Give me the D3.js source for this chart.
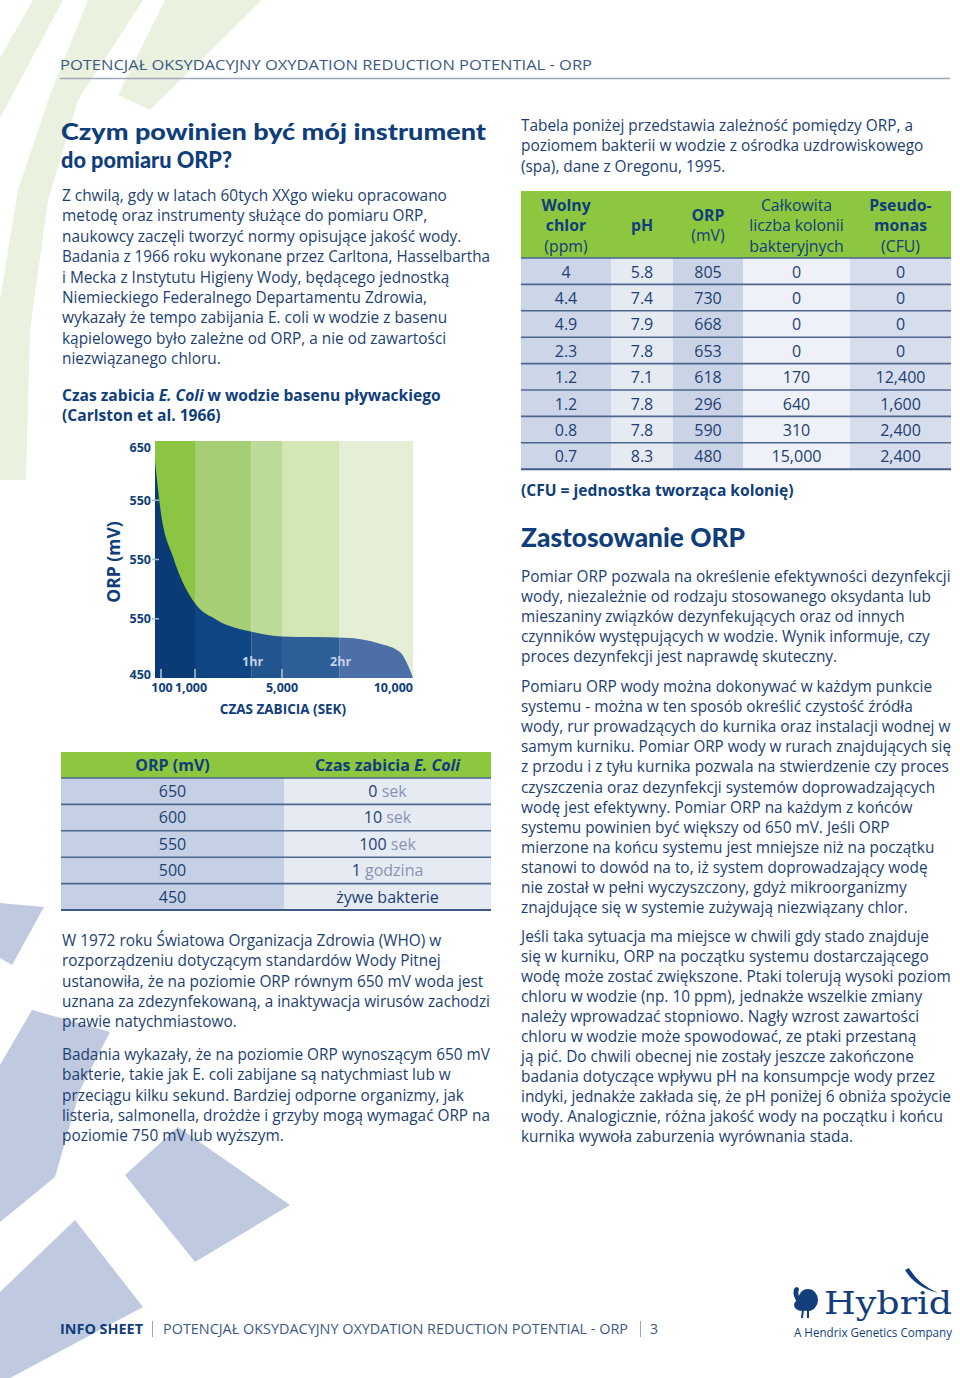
<!DOCTYPE html>
<html><head><meta charset="utf-8">
<script src="https://cdn.jsdelivr.net/npm/d3@7"></script>
<style>
html,body{margin:0;padding:0;background:#fff;}
svg{display:block;font-family:"Open Sans",sans-serif;}
</style></head>
<body><div id="page"></div>
<script>
/* ORP info sheet, page 3: kill-time chart + two tables, drawn with d3 v7 */

// ---- chart data: E. coli kill time vs ORP (Carlston et al. 1966) ----
var killSec = [0, 100, 420, 1000, 2000, 3600, 5000, 7400, 8740, 9500, 9880, 10000];
var killOrp = [633, 589, 552, 513, 499, 489, 485, 484, 479, 472, 457, 450];
var bandEdges = [0, 1000, 3600, 5000, 7200, 10000];
var bandGreens = ["#8cc443", "#a6ce74", "#bddb98", "#d3e6b6", "#e4efd6"];
var bandBlues = ["#0b3b76", "#0f4583", "#22548f", "#2f5f99", "#4b6fa6"];
var xTicks = [100, 1000, 5000, 10000];
var xTickLabels = ["100", "1,000", "5,000", "10,000"];
var yTicks = [450, 500, 550, 600, 650];
var yTickLabels = ["450", "550", "550", "550", "650"]; // as printed
var hourMarks = [3600, 7200];
var hourLabels = ["1hr", "2hr"];

// ---- left table ----
var orpLevels = [650, 600, 550, 500, 450];
var killNum = ["0", "10", "100", "1", "żywe bakterie"];
var killUnit = ["sek", "sek", "sek", "godzina", ""];

// ---- right table (Oregon spa, 1995) ----
var chlorPpm = ["4", "4.4", "4.9", "2.3", "1.2", "1.2", "0.8", "0.7"];
var phVals = ["5.8", "7.4", "7.9", "7.8", "7.1", "7.8", "7.8", "8.3"];
var orpVals = [805, 730, 668, 653, 618, 296, 590, 480];
var colonies = [0, 0, 0, 0, 170, 640, 310, 15000];
var pseudomonas = [0, 0, 0, 0, 12400, 1600, 2400, 2400];

// ---- copy ----
var introLines = [
  "Z chwilą, gdy w latach 60tych XXgo wieku opracowano",
  "metodę oraz instrumenty służące do pomiaru ORP,",
  "naukowcy zaczęli tworzyć normy opisujące jakość wody.",
  "Badania z 1966 roku wykonane przez Carltona, Hasselbartha",
  "i Mecka z Instytutu Higieny Wody,  będącego jednostką",
  "Niemieckiego Federalnego Departamentu Zdrowia,",
  "wykazały że tempo zabijania E. coli w wodzie z basenu",
  "kąpielowego było zależne od ORP, a nie od zawartości",
  "niezwiązanego chloru."];
var whoLines = [
  "W 1972 roku Światowa Organizacja Zdrowia (WHO) w",
  "rozporządzeniu dotyczącym standardów Wody Pitnej",
  "ustanowiła, że na poziomie ORP równym 650 mV woda jest",
  "uznana za zdezynfekowaną, a inaktywacja wirusów zachodzi",
  "prawie natychmiastowo."];
var studyLines = [
  "Badania wykazały, że na poziomie ORP wynoszącym 650 mV",
  "bakterie, takie jak E. coli zabijane są natychmiast lub w",
  "przeciągu kilku sekund. Bardziej odporne organizmy, jak",
  "listeria, salmonella, drożdże i grzyby mogą wymagać ORP na",
  "poziomie 750 mV lub wyższym."];
var tableIntro = [
  "Tabela poniżej przedstawia zależność pomiędzy ORP, a",
  "poziomem bakterii w wodzie z ośrodka uzdrowiskowego",
  "(spa), dane z Oregonu, 1995."];
var useLines1 = [
  "Pomiar ORP pozwala na określenie efektywności dezynfekcji",
  "wody, niezależnie od rodzaju stosowanego oksydanta lub",
  "mieszaniny związków dezynfekujących oraz od innych",
  "czynników występujących w wodzie. Wynik informuje, czy",
  "proces dezynfekcji jest naprawdę skuteczny."];
var useLines2 = [
  "Pomiaru ORP wody można dokonywać w każdym punkcie",
  "systemu  - można w ten sposób określić czystość źródła",
  "wody, rur prowadzących do kurnika oraz instalacji wodnej w",
  "samym kurniku. Pomiar ORP wody w rurach znajdujących się",
  "z przodu i z tyłu kurnika pozwala na stwierdzenie czy proces",
  "czyszczenia oraz dezynfekcji systemów doprowadzających",
  "wodę jest efektywny. Pomiar ORP na każdym z końców",
  "systemu powinien być większy od 650 mV. Jeśli ORP",
  "mierzone na końcu systemu jest mniejsze niż na początku",
  "stanowi to dowód na to, iż system doprowadzający wodę",
  "nie został w pełni wyczyszczony, gdyż mikroorganizmy",
  "znajdujące się w systemie zużywają niezwiązany chlor."];
var useLines3 = [
  "Jeśli taka sytuacja ma miejsce w chwili gdy stado znajduje",
  "się w kurniku, ORP na początku systemu dostarczającego",
  "wodę może zostać zwiększone. Ptaki tolerują wysoki poziom",
  "chloru w wodzie (np. 10 ppm), jednakże wszelkie zmiany",
  "należy wprowadzać stopniowo. Nagły wzrost zawartości",
  "chloru w wodzie może spowodować, ze ptaki przestaną",
  "ją pić. Do chwili obecnej nie zostały jeszcze zakończone",
  "badania dotyczące wpływu pH na konsumpcje wody przez",
  "indyki, jednakże zakłada się, że pH poniżej 6 obniża spożycie",
  "wody. Analogicznie, różna jakość wody na początku i końcu",
  "kurnika wywoła zaburzenia wyrównania stada."];
var runTitle = "POTENCJAŁ OKSYDACYJNY OXYDATION REDUCTION POTENTIAL - ORP";

(function () {
  "use strict";
  var W = 960, H = 1378;
  var NAVY = "#0f3e7b", TEXT = "#1d3f72", SLATE = "#3b5a84", GREEN = "#8dc63f";
  var BODY = 15.4, LH = 20.3, HEAD_FONT = "Lato, sans-serif";

  var svg = d3.select("#page").append("svg").attr("width", W).attr("height", H);
  svg.append("rect").attr("width", W).attr("height", H).attr("fill", "#fff");

  // decorative background blades
  var bg = svg.append("g");
  [[[33,0],[63,0],[0,118],[0,58]],
   [[88,0],[143,0],[78,100],[48,200],[30,330],[26,480],[0,480],[0,300],[18,190],[50,95]],
   [[165,0],[262,0],[150,110],[118,95]]
  ].forEach(function (p) { bg.append("path").attr("d", "M" + p.join("L") + "Z").attr("fill", "#eaf1de"); });
  [[[0,903],[44,907],[12,965],[0,958]],
   [[32,1010],[110,1032],[80,1090],[55,1177],[0,1222],[0,1065]],
   [[125,1175],[178,1127],[290,1205],[195,1262]],
   [[0,1292],[75,1220],[143,1307],[10,1378],[0,1378]]
  ].forEach(function (p) { bg.append("path").attr("d", "M" + p.join("L") + "Z").attr("fill", "#bfc9e0"); });

  // one <text> per paragraph, a tspan per printed line
  function para(lines, x, y0, opt) {
    opt = opt || {};
    var t = svg.append("text").attr("fill", opt.fill || TEXT).attr("font-size", opt.size || BODY)
      .attr("font-weight", opt.weight || 400);
    if (opt.family) t.attr("font-family", opt.family);
    lines.forEach(function (s, i) {
      var ts = t.append("tspan").attr("x", x).attr("y", y0 + i * (opt.lh || LH)).text(s);
      var w = ts.node().getComputedTextLength();
      if (opt.fit && opt.fit[i]) ts.attr("textLength", opt.fit[i]).attr("lengthAdjust", "spacingAndGlyphs");
      else if (opt.max && w > opt.max) ts.attr("textLength", opt.max).attr("lengthAdjust", "spacingAndGlyphs");
    });
    return t;
  }

  // running header
  svg.append("text").attr("x", 60).attr("y", 70).attr("fill", SLATE).attr("font-size", 14)
    .attr("textLength", 532).attr("lengthAdjust", "spacingAndGlyphs").text(runTitle);
  svg.append("line").attr("x1", 60).attr("x2", 950).attr("y1", 78.5).attr("y2", 78.5)
    .attr("stroke", "#9ea8b6").attr("stroke-width", 1.5);

  // ---- left column ----
  para(["Czym powinien być mój instrument", "do pomiaru ORP?"], 61, 139.5,
       { size: 23.5, weight: 900, fill: NAVY, lh: 28.3, fit: [425, 171], family: HEAD_FONT });
  para(introLines, 62, 201, { max: 428, lh: 20.4 });
  var ct = svg.append("text").attr("fill", NAVY).attr("font-size", 15.6).attr("font-weight", 700);
  var ct1 = ct.append("tspan").attr("x", 62).attr("y", 401);
  ct1.append("tspan").text("Czas zabicia ");
  ct1.append("tspan").attr("font-style", "italic").text("E. Coli");
  ct1.append("tspan").text(" w wodzie basenu pływackiego");
  ct.append("tspan").attr("x", 62).attr("y", 421).text("(Carlston et al. 1966)");

  // ---- chart ----
  var x = d3.scaleLinear().domain([0, 100, 1000, 5000, 10000]).range([155, 161, 195, 282, 413]);
  var y = d3.scaleLinear().domain([450, 650]).range([678, 441]);
  var chart = svg.append("g");
  var bands = d3.range(bandGreens.length).map(function (i) {
    return { a: bandEdges[i], b: bandEdges[i + 1], g: bandGreens[i], bl: bandBlues[i] };
  });
  chart.selectAll("rect.gb").data(bands).join("rect").attr("class", "gb")
    .attr("x", function (d) { return x(d.a); }).attr("width", function (d) { return x(d.b) - x(d.a); })
    .attr("y", y(650)).attr("height", y(450) - y(650)).attr("fill", function (d) { return d.g; });

  var pts = killSec.map(function (s, i) { return { s: s, v: killOrp[i] }; });
  var area = d3.area().x(function (d) { return x(d.s); }).y0(y(450))
    .y1(function (d) { return y(d.v); }).curve(d3.curveMonotoneX);
  svg.append("defs").append("clipPath").attr("id", "kill").append("path").attr("d", area(pts));
  chart.append("g").attr("clip-path", "url(#kill)").selectAll("rect").data(bands).join("rect")
    .attr("x", function (d) { return x(d.a); }).attr("width", function (d) { return x(d.b) - x(d.a); })
    .attr("y", y(650)).attr("height", y(450) - y(650)).attr("fill", function (d) { return d.bl; });

  // tick marks inside the blue
  chart.selectAll("line.xt").data(xTicks.slice(0, 3)).join("line").attr("class", "xt")
    .attr("x1", x).attr("x2", x).attr("y1", y(450) - 9).attr("y2", y(450))
    .attr("stroke", "#b6c4da").attr("stroke-width", 1.5);
  chart.selectAll("line.yt").data(yTicks.slice(1, 4)).join("line").attr("class", "yt")
    .attr("x1", 152).attr("x2", 159).attr("y1", y).attr("y2", y)
    .attr("stroke", "#a9b8cf").attr("stroke-width", 1.5);

  chart.selectAll("text.hr").data(hourMarks).join("text").attr("class", "hr")
    .attr("x", function (d) { return x(d) + 1; }).attr("y", 666).attr("text-anchor", "middle")
    .attr("fill", "#c4d2e8").attr("font-size", 12.5).attr("font-weight", 700)
    .text(function (d, i) { return hourLabels[i]; });

  chart.selectAll("text.yl").data(yTicks).join("text").attr("class", "yl")
    .attr("x", 151).attr("text-anchor", "end")
    .attr("y", function (d, i) { return y(d) + (i === 0 ? 1 : i === yTicks.length - 1 ? 11 : 4.5); })
    .attr("fill", NAVY).attr("font-size", 12.5).attr("font-weight", 700)
    .text(function (d, i) { return yTickLabels[i]; });
  var xAnchor = ["middle", "middle", "middle", "end"], xShift = [1, -4, 0, 0];
  chart.selectAll("text.xl").data(xTicks).join("text").attr("class", "xl")
    .attr("x", function (d, i) { return x(d) + xShift[i]; }).attr("y", 692)
    .attr("text-anchor", function (d, i) { return xAnchor[i]; })
    .attr("fill", NAVY).attr("font-size", 12.5).attr("font-weight", 700)
    .text(function (d, i) { return xTickLabels[i]; });
  chart.append("text").attr("x", 283).attr("y", 714).attr("text-anchor", "middle")
    .attr("fill", NAVY).attr("font-size", 13.5).attr("font-weight", 700).text("CZAS ZABICIA (SEK)");
  chart.append("text").attr("transform", "translate(120,562) rotate(-90)").attr("text-anchor", "middle")
    .attr("fill", NAVY).attr("font-size", 17.5).attr("font-weight", 700).text("ORP (mV)");

  // ---- left table: ORP vs kill time ----
  var lt = svg.append("g"), LX = [61, 284, 491], LTOP = 752, LHEAD = 26, LROW = 26.4;
  lt.append("rect").attr("x", LX[0]).attr("y", LTOP).attr("width", LX[2] - LX[0]).attr("height", LHEAD).attr("fill", GREEN);
  var lrows = lt.selectAll("g.r").data(orpLevels).join("g").attr("class", "r")
    .attr("transform", function (d, i) { return "translate(0," + (LTOP + LHEAD + i * LROW) + ")"; });
  lrows.append("rect").attr("x", LX[0]).attr("width", LX[1] - LX[0]).attr("height", LROW).attr("fill", "#c6d0e4");
  lrows.append("rect").attr("x", LX[1]).attr("width", LX[2] - LX[1]).attr("height", LROW).attr("fill", "#e6eaf3");
  lrows.append("line").attr("x1", LX[0]).attr("x2", LX[2]).attr("y1", 0).attr("y2", 0)
    .attr("stroke", "#4d6690").attr("stroke-width", 1.6);
  lrows.append("text").attr("x", (LX[0] + LX[1]) / 2).attr("y", 19).attr("text-anchor", "middle")
    .attr("fill", TEXT).attr("font-size", 16).text(function (d) { return d; });
  var kt = lrows.append("text").attr("x", (LX[1] + LX[2]) / 2).attr("y", 19).attr("text-anchor", "middle")
    .attr("font-size", 16);
  kt.append("tspan").attr("fill", TEXT).text(function (d, i) { return killNum[i]; });
  kt.append("tspan").attr("fill", "#8896b0").text(function (d, i) { return killUnit[i] ? " " + killUnit[i] : ""; });
  lt.append("line").attr("x1", LX[0]).attr("x2", LX[2])
    .attr("y1", LTOP + LHEAD + orpLevels.length * LROW).attr("y2", LTOP + LHEAD + orpLevels.length * LROW)
    .attr("stroke", "#3f5a86").attr("stroke-width", 2);
  lt.append("text").attr("x", (LX[0] + LX[1]) / 2).attr("y", 771).attr("text-anchor", "middle")
    .attr("fill", NAVY).attr("font-size", 16).attr("font-weight", 700).text("ORP (mV)");
  var lh = lt.append("text").attr("x", (LX[1] + LX[2]) / 2).attr("y", 771).attr("text-anchor", "middle")
    .attr("fill", NAVY).attr("font-size", 16).attr("font-weight", 700);
  lh.append("tspan").text("Czas zabicia ");
  lh.append("tspan").attr("font-style", "italic").text("E. Coli");

  para(whoLines, 62, 946, { max: 428 });
  para(studyLines, 62, 1060, { max: 428 });

  // ---- right column ----
  para(tableIntro, 521, 131, { max: 430 });

  var RX = [521, 611, 673, 743, 850, 951], RTOP = 191, RHEAD = 67, RROW = 26.4;
  var colShade = ["#cdd6e8", "#e6eaf3", "#cbd4e7", "#eef1f7", "#d6ddec"];
  var fmt = d3.format(",");
  var rows = orpVals.map(function (v, i) {
    return [chlorPpm[i], phVals[i], String(v), fmt(colonies[i]), fmt(pseudomonas[i])];
  });
  var rt = svg.append("g");
  rt.append("rect").attr("x", RX[0]).attr("y", RTOP).attr("width", RX[5] - RX[0]).attr("height", RHEAD).attr("fill", GREEN);
  var heads = [
    [["Wolny", 700], ["chlor", 700], ["(ppm)", 400]],
    [["pH", 700]],
    [["ORP", 700], ["(mV)", 400]],
    [["Całkowita", 400], ["liczba kolonii", 400], ["bakteryjnych", 400]],
    [["Pseudo-", 700], ["monas", 700], ["(CFU)", 400]]];
  heads.forEach(function (h, c) {
    var cx = (RX[c] + RX[c + 1]) / 2, y0 = RTOP + 34 - (h.length - 1) * 10 + 5.5;
    var t = rt.append("text").attr("text-anchor", "middle").attr("fill", NAVY).attr("font-size", 15.8);
    h.forEach(function (ln, k) {
      t.append("tspan").attr("x", cx).attr("y", y0 + k * 20.5).attr("font-weight", ln[1]).text(ln[0]);
    });
  });
  var rr = rt.selectAll("g.r").data(rows).join("g").attr("class", "r")
    .attr("transform", function (d, i) { return "translate(0," + (RTOP + RHEAD + i * RROW) + ")"; });
  rr.selectAll("rect").data(function (d) { return d; }).join("rect")
    .attr("x", function (d, c) { return RX[c]; }).attr("width", function (d, c) { return RX[c + 1] - RX[c]; })
    .attr("height", RROW).attr("fill", function (d, c) { return colShade[c]; });
  rr.selectAll("text").data(function (d) { return d; }).join("text")
    .attr("x", function (d, c) { return (RX[c] + RX[c + 1]) / 2; }).attr("y", 19.5).attr("text-anchor", "middle")
    .attr("fill", TEXT).attr("font-size", 16).text(function (d) { return d; });
  rr.append("line").attr("x1", RX[0]).attr("x2", RX[5]).attr("y1", 0).attr("y2", 0)
    .attr("stroke", "#4d6690").attr("stroke-width", 1.6);
  var rb = RTOP + RHEAD + rows.length * RROW;
  rt.append("line").attr("x1", RX[0]).attr("x2", RX[5]).attr("y1", rb).attr("y2", rb)
    .attr("stroke", "#3f5a86").attr("stroke-width", 2);
  svg.append("text").attr("x", 521).attr("y", 496).attr("fill", NAVY).attr("font-size", 15.6)
    .attr("font-weight", 700).text("(CFU = jednostka tworząca kolonię)");

  para(["Zastosowanie ORP"], 521, 547, { size: 26, weight: 900, fill: NAVY, fit: [224], family: HEAD_FONT });
  para(useLines1, 521, 582, { max: 430, lh: 20.1 });
  para(useLines2, 521, 692, { max: 430, lh: 20.1 });
  para(useLines3, 521, 942, { max: 430, lh: 20.0 });

  // ---- footer ----
  svg.append("text").attr("x", 60).attr("y", 1334).attr("font-size", 14.5).attr("fill", NAVY)
    .attr("font-weight", 700).attr("textLength", 83).attr("lengthAdjust", "spacingAndGlyphs").text("INFO SHEET");
  svg.append("line").attr("x1", 152.5).attr("x2", 152.5).attr("y1", 1321).attr("y2", 1337).attr("stroke", "#9aa6b8");
  svg.append("text").attr("x", 163).attr("y", 1334).attr("font-size", 14).attr("fill", SLATE)
    .attr("textLength", 465).attr("lengthAdjust", "spacingAndGlyphs").text(runTitle);
  svg.append("line").attr("x1", 640.5).attr("x2", 640.5).attr("y1", 1321).attr("y2", 1337).attr("stroke", "#9aa6b8");
  svg.append("text").attr("x", 650).attr("y", 1334).attr("font-size", 14).attr("fill", SLATE).text("3");

  // ---- logo ----
  var logo = svg.append("g").attr("fill", "#123f7c");
  logo.append("ellipse").attr("cx", 808).attr("cy", 1300).attr("rx", 10).attr("ry", 11);
  logo.append("ellipse").attr("cx", 802).attr("cy", 1305).attr("rx", 8).attr("ry", 6);
  logo.append("path").attr("d", "M798,1303 Q792,1296 794,1289 Q797,1285 799,1289 Q797,1295 801,1300 Z");
  logo.append("path").attr("d", "M802,1310 L801,1318 L803,1318 L804,1310 Z M807,1310 L807,1318 L809,1318 L809,1310 Z");
  logo.append("text").attr("x", 824).attr("y", 1314).attr("font-family", "'DejaVu Serif', serif")
    .attr("font-size", 32).attr("textLength", 128).attr("lengthAdjust", "spacingAndGlyphs").text("Hybrid");
  logo.append("path").attr("d", "M905,1270 Q915,1287 938,1293 Q918,1284 909,1268 Z");
  svg.append("text").attr("x", 794).attr("y", 1337).attr("font-size", 12).attr("fill", "#123f7c")
    .attr("textLength", 158).attr("lengthAdjust", "spacingAndGlyphs").text("A Hendrix Genetics Company");
})();
</script>
</body></html>
